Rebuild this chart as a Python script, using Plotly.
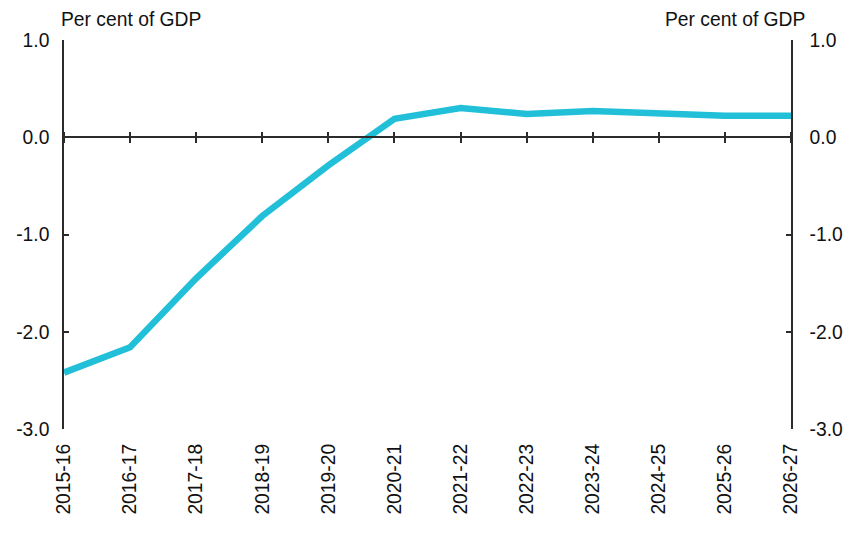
import plotly.graph_objects as go

## Data ----------------------------------------------------------------------

years = ["2015-16", "2016-17", "2017-18", "2018-19", "2019-20", "2020-21",
         "2021-22", "2022-23", "2023-24", "2024-25", "2025-26", "2026-27"]
balance = [-2.42, -2.16, -1.45, -0.81, -0.29, 0.19,
           0.30, 0.24, 0.27, 0.25, 0.22, 0.22]

y_ticks = [-3, -2, -1, 0, 1]
y_labels = ["-3.0", "-2.0", "-1.0", "0.0", "1.0"]
unit_label = "Per cent of GDP"

## Figure ----------------------------------------------------------------------

font = dict(family="Liberation Sans, Arial, sans-serif", size=19.3, color="#111111")
axis_col = "#2b2b2b"

fig = go.Figure()

fig.add_trace(go.Scatter(x=years, y=balance, mode="lines",
                         line=dict(color="#22c0d8", width=6.5),
                         showlegend=False, hoverinfo="skip"))

# invisible copies so the zero-line tick axes get drawn
for ax in ["x2", "x3"]:
    fig.add_trace(go.Scatter(x=years, y=balance, mode="lines", xaxis=ax,
                             line=dict(width=0), opacity=0,
                             showlegend=False, hoverinfo="skip"))
fig.add_trace(go.Scatter(x=years, y=balance, mode="lines", yaxis="y2",
                         line=dict(width=0), opacity=0,
                         showlegend=False, hoverinfo="skip"))

xrange = [0, len(years) - 1]
zero_pos = (0 - y_ticks[0]) / (y_ticks[-1] - y_ticks[0])

fig.update_layout(
    width=857, height=536,
    margin=dict(l=56, r=74, t=32, b=115),
    paper_bgcolor="white", plot_bgcolor="white",
    font=font,
    xaxis=dict(type="category", range=xrange, tickangle=-90,
               showline=False, showgrid=False, ticks="", zeroline=False,
               ticklabelstandoff=10, automargin=False),
    xaxis2=dict(type="category", range=xrange, overlaying="x", anchor="free",
                position=zero_pos, side="bottom", showline=True, linecolor=axis_col,
                linewidth=1.5, ticks="outside", ticklen=5, tickwidth=1.5,
                tickcolor=axis_col, showticklabels=False, showgrid=False),
    xaxis3=dict(type="category", range=xrange, overlaying="x", anchor="free",
                position=zero_pos, side="top", showline=False,
                ticks="outside", ticklen=5, tickwidth=1.5,
                tickcolor=axis_col, showticklabels=False, showgrid=False),
    yaxis=dict(range=[y_ticks[0], y_ticks[-1]], tickvals=y_ticks, ticktext=y_labels,
               showline=True, linecolor=axis_col, linewidth=1.5,
               ticks="inside", ticklen=5, tickwidth=1.5, tickcolor=axis_col,
               showgrid=False, zeroline=False, ticklabelstandoff=9, automargin=False),
    yaxis2=dict(range=[y_ticks[0], y_ticks[-1]], tickvals=y_ticks, ticktext=y_labels,
                overlaying="y", side="right", anchor="x",
                showline=True, linecolor=axis_col, linewidth=1.5,
                ticks="inside", ticklen=5, tickwidth=1.5, tickcolor=axis_col,
                showgrid=False, zeroline=False, ticklabelstandoff=13, automargin=False),
)

fig.add_annotation(text=unit_label, xref="paper", yref="paper", x=0, y=1,
                   xanchor="left", yanchor="bottom", yshift=8, xshift=-5,
                   showarrow=False, font=font)
fig.add_annotation(text=unit_label, xref="paper", yref="paper", x=1, y=1,
                   xanchor="right", yanchor="bottom", yshift=8, xshift=16,
                   showarrow=False, font=font)

fig.write_html("out.html")
